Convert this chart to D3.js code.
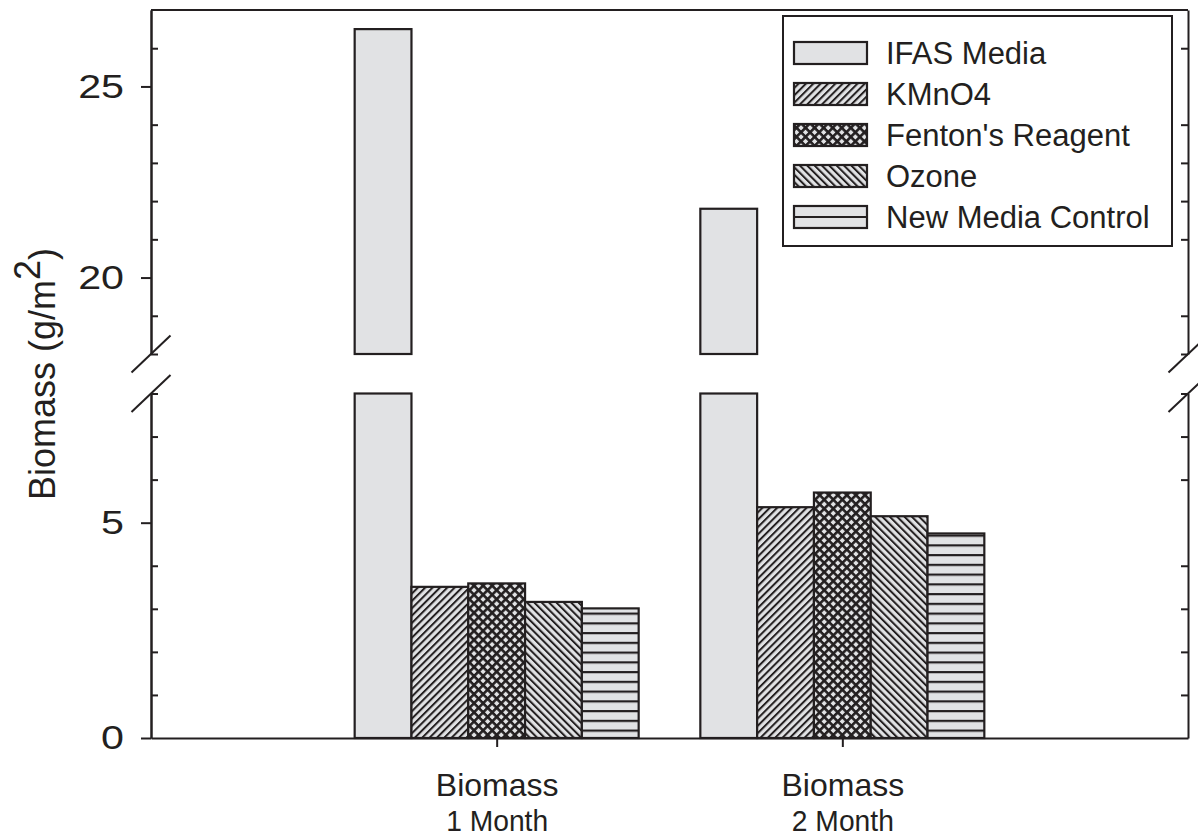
<!DOCTYPE html>
<html>
<head>
<meta charset="utf-8">
<script src="https://cdn.jsdelivr.net/npm/d3@7"></script>
<style>
  body { margin: 0; background: #fff; }
  text { font-family: "Liberation Sans", Arial, sans-serif; fill: #231f20; }
</style>
</head>
<body>
<div id="chart"></div>
<script>
// data
var categories = ["Biomass|1 Month", "Biomass|2 Month"];
var series = ["IFAS Media", "KMnO4", "Fenton's Reagent", "Ozone", "New Media Control"];
var month1 = [26.5, 3.51, 3.59, 3.16, 3.01];
var month2 = [21.8, 5.36, 5.70, 5.15, 4.75];
var lowTicksMajor = [0, 5];
var lowTicksMinor = [1, 2, 3, 4, 6, 7, 8];
var upTicksMajor = [20, 25];
var upTicksMinor = [18, 19, 21, 22, 23, 24, 26];

function main() {
    var width = 1198, height = 838;
    var left = 151, right = 1188, top = 10, bottom = 738;
    var ink = "#231f20", grey = "#e1e2e4";

    var svg = d3.select("#chart").append("svg").attr("width", width).attr("height", height);
    var defs = svg.append("defs");

    // hatch patterns
    function stripes(id, angle, size, lw) {
        var p = defs.append("pattern").attr("id", id)
            .attr("patternUnits", "userSpaceOnUse")
            .attr("width", size).attr("height", size)
            .attr("patternTransform", "rotate(" + angle + ")");
        p.append("rect").attr("width", size).attr("height", size).attr("fill", grey);
        p.append("rect").attr("width", lw).attr("height", size).attr("fill", ink);
        return p;
    }
    stripes("p-kmno4", 45, 5.2, 2);
    stripes("p-ozone", -45, 5.2, 2);
    var cross = stripes("p-fenton", 45, 6.4, 2.6);
    cross.append("rect").attr("width", 6.4).attr("height", 2.6).attr("fill", ink);
    var hl = defs.append("pattern").attr("id", "p-new")
        .attr("patternUnits", "userSpaceOnUse")
        .attr("width", 10).attr("height", 9.75).attr("y", 623.3 - 1);
    hl.append("rect").attr("width", 10).attr("height", 9.75).attr("fill", grey);
    hl.append("rect").attr("width", 10).attr("height", 2.2).attr("fill", ink);

    var fills = [grey, "url(#p-kmno4)", "url(#p-fenton)", "url(#p-ozone)", "url(#p-new)"];

    // scales: broken axis, two segments
    var x = d3.scalePoint().domain(categories).range([left, right]).padding(1);
    var xs = d3.scaleBand().domain(series).range([-142, 142]);
    var yLow = d3.scaleLinear().domain([0, 8]).range([bottom, 393.5]);
    var yUp = d3.scaleLinear().domain([18, 27]).range([354, top]);

    var data = [month1, month2];

    var g = svg.append("g");
    categories.forEach(function(c, ci) {
        var vals = data[ci];
        var gg = g.append("g").attr("transform", "translate(" + x(c) + ",0)");
        series.forEach(function(s, si) {
            var v = vals[si];
            // lower segment
            var vl = Math.min(v, 8);
            gg.append("rect")
              .attr("x", xs(s)).attr("width", xs.bandwidth())
              .attr("y", yLow(vl)).attr("height", yLow(0) - yLow(vl))
              .attr("fill", fills[si]).attr("stroke", ink).attr("stroke-width", 2.2);
            if (v > 18) {
                gg.append("rect")
                  .attr("x", xs(s)).attr("width", xs.bandwidth())
                  .attr("y", yUp(v)).attr("height", yUp(18) - yUp(v))
                  .attr("fill", fills[si]).attr("stroke", ink).attr("stroke-width", 2.2);
            }
        });
    });

    // axes
    function style(sel) {
        sel.selectAll("path, line").attr("stroke", ink).attr("stroke-width", 2);
        sel.selectAll("text").attr("font-size", 33).attr("fill", ink)
           .style("font-family", "'Liberation Sans', Arial, sans-serif");
    }
    var sx = 1.25;
    [[yLow, lowTicksMajor, lowTicksMinor], [yUp, upTicksMajor, upTicksMinor]].forEach(function(a) {
        var ax = svg.append("g").attr("transform", "translate(" + left + ",0)")
           .call(d3.axisLeft(a[0]).tickValues(a[1]).tickSize(10).tickSizeOuter(0).tickPadding(17).tickFormat(d3.format("d")))
           .call(style);
        // wider digits as in the original
        ax.selectAll(".tick text").attr("x", -27 / sx).attr("transform", "scale(" + sx + ",1)");
        svg.append("g").attr("transform", "translate(" + left + ",0)")
           .call(d3.axisRight(a[0]).tickValues(a[2]).tickSize(7).tickSizeOuter(0).tickFormat(""))
           .call(style);
        svg.append("g").attr("transform", "translate(" + right + ",0)")
           .call(d3.axisLeft(a[0]).tickValues(a[2]).tickSize(7).tickSizeOuter(0).tickFormat(""))
           .call(style);
    });

    // top border
    svg.append("line").attr("x1", left).attr("x2", right).attr("y1", top).attr("y2", top)
       .attr("stroke", ink).attr("stroke-width", 2);

    var xAxis = svg.append("g").attr("transform", "translate(0," + bottom + ")")
        .call(d3.axisBottom(x).tickSize(9).tickSizeOuter(0).tickPadding(0).tickFormat(""))
        .call(style);
    // two-line category labels, one text per line
    xAxis.selectAll(".tick").each(function(d) {
        var parts = d.split("|");
        var t = d3.select(this);
        t.append("text").attr("y", 58).attr("text-anchor", "middle")
         .attr("font-size", 32).attr("fill", ink).text(parts[0]);
        t.append("text").attr("y", 93).attr("text-anchor", "middle")
         .attr("font-size", 30).attr("fill", ink)
         .attr("textLength", 102).attr("lengthAdjust", "spacingAndGlyphs").text(parts[1]);
    });

    // break marks
    [left, right].forEach(function(bx) {
        [yUp(18), yLow(8)].forEach(function(by) {
            svg.append("line")
               .attr("x1", bx - 19.5).attr("y1", by + 18.5)
               .attr("x2", bx + 19.5).attr("y2", by - 18.5)
               .attr("stroke", ink).attr("stroke-width", 2);
        });
    });

    // y title
    var yt = svg.append("text")
        .attr("transform", "translate(55," + ((top + bottom) / 2) + ") rotate(-90)")
        .attr("text-anchor", "middle").attr("font-size", 36);
    yt.append("tspan").text("Biomass (g/m");
    yt.append("tspan").attr("dy", "-0.42em").text("2");
    yt.append("tspan").attr("dy", "0.42em").text(")");

    // legend
    var lg = svg.append("g");
    lg.append("rect").attr("x", 783).attr("y", 16).attr("width", 389).attr("height", 230)
      .attr("fill", "#fff").attr("stroke", ink).attr("stroke-width", 2);
    var ly = d3.scalePoint().domain(series).range([53, 217]);
    series.forEach(function(s, i) {
        var row = lg.append("g").attr("transform", "translate(0," + ly(s) + ")");
        row.append("rect").attr("x", 794).attr("y", -11).attr("width", 73).attr("height", 22)
           .attr("fill", i == 4 ? grey : fills[i]).attr("stroke", ink).attr("stroke-width", 2.2);
        if (i == 4) {
            row.append("line").attr("x1", 794).attr("x2", 867).attr("y1", 0).attr("y2", 0)
               .attr("stroke", ink).attr("stroke-width", 2.2);
        }
        row.append("text").attr("x", 886).attr("dy", "0.36em").attr("font-size", 31).text(s);
    });
}

main();
</script>
</body>
</html>
